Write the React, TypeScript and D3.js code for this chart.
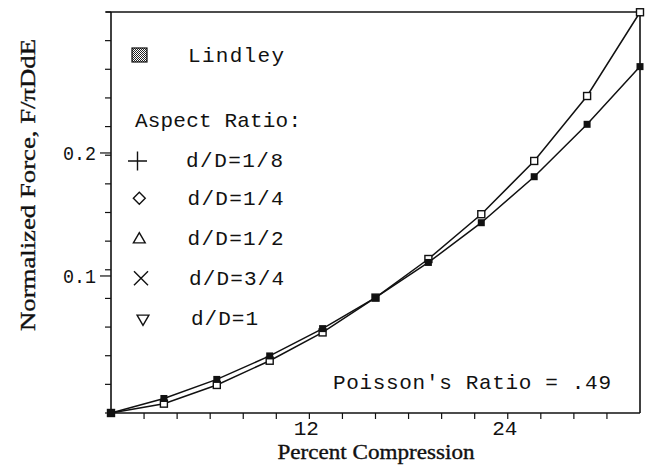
import React from "react";
import * as d3 from "d3";

// ---- data ----
const X_VALUES = [0, 3.2, 6.4, 9.6, 12.8, 16, 19.2, 22.4, 25.6, 28.8, 32];
const LINDLEY = [-0.0114, 0.0004, 0.0159, 0.035, 0.0572, 0.0824, 0.111, 0.1433, 0.1807, 0.2233, 0.2702];
const ASPECT = [-0.0114, -0.0038, 0.0114, 0.0311, 0.0541, 0.0824, 0.1138, 0.1502, 0.1935, 0.2463, 0.3144];
const X_TICK_LABELS = [12, 24];
const Y_TICK_LABELS = [0.1, 0.2];
const LEGEND_LABELS = ["d/D=1/8", "d/D=1/4", "d/D=1/2", "d/D=3/4", "d/D=1"];
const X_DOMAIN = [0, 32];
const Y_DOMAIN = [-0.0114, 0.3146];

const W = 645;
const H = 466;
const L = 111, R = 640, T = 12, B = 413;

const MONO = "'Liberation Mono', 'DejaVu Sans Mono', monospace";
const SERIF = "'Liberation Serif', 'DejaVu Serif', serif";

export default function App() {
  const x = d3.scaleLinear().domain(X_DOMAIN).range([L, R]);
  const y = d3.scaleLinear().domain(Y_DOMAIN).range([B, T]);
  const line = d3.line<number>().x((_, i) => x(X_VALUES[i])).y((d) => y(d));

  const xMinor = d3.range(X_DOMAIN[0] + 2, X_DOMAIN[1], 2);
  const yMinor = d3.range(15).map((i) => Y_DOMAIN[0] + (i * (Y_DOMAIN[1] - Y_DOMAIN[0])) / 14);

  const sym = (type: any, size: number) => d3.symbol().type(type).size(size)() as string;
  const legendSyms = [
    { d: sym(d3.symbolPlus, 120), x: 137.5, y: 161, rot: 0 },
    { d: sym(d3.symbolDiamond2, 90), x: 139.3, y: 198.3, rot: 0 },
    { d: sym(d3.symbolTriangle2, 100), x: 139.3, y: 239.5, rot: 0 },
    { d: sym(d3.symbolX, 130), x: 141, y: 278.3, rot: 0 },
    { d: sym(d3.symbolTriangle2, 100), x: 143, y: 318.5, rot: 180 },
  ];
  const legendTextX = [186, 187.5, 187.5, 189, 191];
  const legendTextY = [167, 205, 245, 285, 325];
  const legendTextLen = [97, 96, 96, 95, 67];

  return (
    <svg width={W} height={H} style={{ position: "absolute", left: 0, top: 0, background: "#fff" }}>
      <defs>
        <pattern id="stip" width="2" height="2" patternUnits="userSpaceOnUse">
          <rect width="2" height="2" fill="#fff" />
          <rect width="1" height="1" fill="#222" />
          <rect x="1" y="1" width="1" height="1" fill="#222" />
        </pattern>
      </defs>
      {/* frame */}
      <g stroke="#111" strokeWidth={1.6} fill="none">
        <line x1={L} y1={B} x2={R} y2={B} />
        <line x1={L} y1={T} x2={L} y2={B} />
        <line x1={L - 5} y1={T} x2={R} y2={T} />
        <line x1={R} y1={T} x2={R} y2={B} />
      </g>
      {/* y minor ticks */}
      <g stroke="#111" strokeWidth={1.2}>
        {yMinor.map((v, i) => (
          <line key={i} x1={L - 6} x2={L} y1={y(v)} y2={y(v)} />
        ))}
        {Y_TICK_LABELS.map((v, i) => (
          <line key={"m" + i} x1={L - 11} x2={L} y1={y(v)} y2={y(v)} />
        ))}
      </g>
      {/* x ticks */}
      <g stroke="#111" strokeWidth={1.2}>
        {xMinor.map((v, i) => (
          <line key={i} x1={x(v)} x2={x(v)} y1={B} y2={B + 6} />
        ))}
      </g>
      {/* tick labels */}
      <g fontFamily={MONO} fontSize={21} fill="#111">
        {Y_TICK_LABELS.map((v, i) => (
          <text key={i} x={96} y={y(v) + 7} textAnchor="end" textLength={33} lengthAdjust="spacingAndGlyphs">
            {v.toFixed(1)}
          </text>
        ))}
        {X_TICK_LABELS.map((v, i) => (
          <text key={i} x={x(v) - 3} y={435} textAnchor="middle">
            {v}
          </text>
        ))}
      </g>
      {/* axis titles */}
      <text x={376} y={459} textAnchor="middle" fontFamily={SERIF} fontSize={20} fill="#111" stroke="#111" strokeWidth={0.35} textLength={197} lengthAdjust="spacingAndGlyphs">
        Percent Compression
      </text>
      <text
        transform="translate(35,185) rotate(-90)"
        textAnchor="middle"
        fontFamily={SERIF}
        fontSize={22}
        fill="#111"
        stroke="#111"
        strokeWidth={0.35}
        textLength={292}
        lengthAdjust="spacingAndGlyphs"
      >
        Normalized Force, F/πDdE
      </text>
      {/* data lines */}
      <g fill="none" stroke="#111" strokeWidth={1.5}>
        <path d={line(LINDLEY) as string} />
        <path d={line(ASPECT) as string} />
      </g>
      {/* markers */}
      <g>
        {ASPECT.map((v, i) => (
          <rect key={"a" + i} x={x(X_VALUES[i]) - 3.5} y={y(v) - 3.5} width={7} height={7} fill="#fff" stroke="#111" strokeWidth={1.4} />
        ))}
        {LINDLEY.map((v, i) => (
          <rect key={"l" + i} x={x(X_VALUES[i]) - 3.5} y={y(v) - 3.5} width={7} height={7} fill="#111" />
        ))}
      </g>
      {/* legend */}
      <rect x={132} y={48} width={15} height={14} fill="url(#stip)" stroke="#111" strokeWidth={1.2} />
      <g fontFamily={MONO} fontSize={21} fill="#111">
        <text x={188} y={62} textLength={96} lengthAdjust="spacing">Lindley</text>
        <text x={135} y={127} textLength={166} lengthAdjust="spacing">Aspect Ratio:</text>
        {LEGEND_LABELS.map((t, i) => (
          <text key={i} x={legendTextX[i]} y={legendTextY[i]} textLength={legendTextLen[i]} lengthAdjust="spacing">
            {t}
          </text>
        ))}
        <text x={333} y={389} textLength={278} lengthAdjust="spacing">Poisson's Ratio = .49</text>
      </g>
      <g fill="none" stroke="#111" strokeWidth={1.4}>
        {legendSyms.map((s, i) => (
          <path key={i} d={s.d} transform={`translate(${s.x},${s.y}) rotate(${s.rot})`} />
        ))}
      </g>
    </svg>
  );
}
